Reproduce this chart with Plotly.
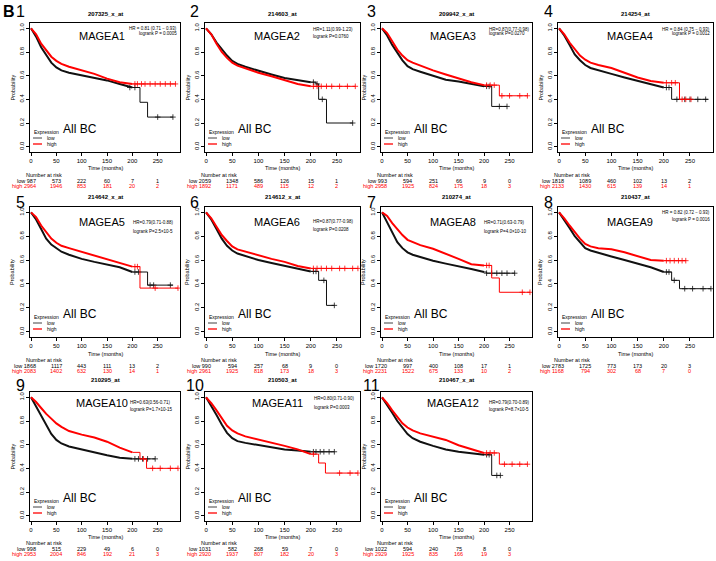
import plotly.graph_objects as go

W, H = 716, 561

# ---------------- data ----------------
GENES = ["MAGEA1", "MAGEA2", "MAGEA3", "MAGEA4", "MAGEA5", "MAGEA6",
         "MAGEA8", "MAGEA9", "MAGEA10", "MAGEA11", "MAGEA12"]
PROBES = ["207325_x_at", "214603_at", "209942_x_at", "214254_at", "214642_x_at",
          "214612_x_at", "210274_at", "210437_at", "210295_at", "210503_at", "210467_x_at"]
HR_TEXT = ["HR = 0.81 (0.71 \u2212 0.93)", "HR=1.11(0.99-1.23)", "HR=0.87(0.77-0.98)",
           "HR = 0.84 (0.75 \u2212 0.93)", "HR=0.79(0.71-0.88)", "HR=0.87(0.77-0.98)",
           "HR=0.71(0.63-0.79)", "HR = 0.82 (0.72 \u2212 0.93)", "HR=0.63(0.56-0.71)",
           "HR=0.80(0.71-0.90)", "HR=0.79(0.70-0.89)"]
P_TEXT = ["logrank P = 0.0005", "logrank P=0.0760", "logrank P=0.0270",
          "logrank P = 0.0012", "logrank P=2.5\u00d710-5", "logrank P=0.0208",
          "logrank P=4.0\u00d710-10", "logrank P = 0.0016", "logrank P=1.7\u00d710-15",
          "logrank P=0.0003", "logrank P=8.7\u00d710-5"]

RISK_TIMES = [0, 50, 100, 150, 200, 250]
RISK_LOW = [[987, 573, 222, 60, 7, 1], [2059, 1348, 586, 126, 15, 1],
            [993, 594, 251, 66, 9, 0], [1818, 1089, 460, 102, 13, 2],
            [1868, 1117, 443, 111, 13, 2], [990, 594, 257, 68, 9, 0],
            [1720, 997, 400, 108, 17, 1], [2783, 1725, 773, 173, 20, 3],
            [998, 515, 229, 49, 6, 0], [1031, 582, 268, 59, 7, 0],
            [1022, 594, 240, 75, 8, 0]]
RISK_HIGH = [[2964, 1946, 853, 181, 20, 2], [1892, 1171, 489, 115, 12, 2],
             [2958, 1925, 824, 175, 18, 3], [2133, 1430, 615, 139, 14, 1],
             [2083, 1402, 632, 130, 14, 1], [2961, 1925, 818, 173, 18, 3],
             [2231, 1522, 675, 133, 10, 2], [1168, 794, 302, 68, 7, 0],
             [2953, 2004, 846, 192, 21, 3], [2920, 1937, 807, 182, 20, 3],
             [2929, 1925, 835, 166, 19, 3]]

TIME_GRID = [0, 10, 20, 30, 40, 50, 60, 75, 100, 125, 150, 175, 200]
LOW_SURV = [
    [1, .93, .84, .77, .71, .67, .645, .625, .605, .585, .56, .53, .50],
    [1, .95, .88, .82, .77, .725, .70, .675, .64, .61, .58, .56, .545],
    [1, .94, .86, .79, .73, .68, .655, .633, .60, .565, .55, .53, .51],
    [1, .94, .86, .78, .73, .69, .665, .645, .615, .585, .555, .53, .50],
    [1, .94, .86, .78, .73, .70, .67, .645, .61, .585, .56, .54, .50],
    [1, .94, .86, .78, .72, .68, .655, .635, .60, .575, .55, .525, .505],
    [1, .92, .83, .75, .70, .665, .645, .625, .595, .57, .55, .525, .50],
    [1, .94, .87, .80, .745, .70, .68, .66, .63, .60, .57, .54, .50],
    [1, .92, .84, .76, .69, .64, .61, .585, .56, .53, .51, .49, .48],
    [1, .93, .85, .77, .70, .655, .63, .615, .595, .575, .56, .55, .54],
    [1, .94, .87, .80, .74, .69, .655, .625, .59, .56, .54, .525, .515],
]
HIGH_SURV = [
    [1, .95, .87, .81, .76, .725, .70, .675, .645, .615, .575, .545, .53],
    [1, .95, .87, .80, .75, .71, .685, .66, .625, .595, .565, .53, .51],
    [1, .96, .89, .82, .77, .73, .71, .685, .645, .61, .575, .545, .52],
    [1, .95, .88, .82, .77, .735, .71, .69, .665, .625, .585, .555, .54],
    [1, .96, .89, .83, .78, .745, .72, .70, .67, .64, .61, .575, .545],
    [1, .95, .88, .81, .76, .715, .69, .67, .64, .61, .585, .55, .53],
    [1, .97, .91, .86, .81, .77, .75, .725, .695, .655, .61, .565, .555],
    [1, .95, .89, .83, .78, .735, .715, .70, .69, .665, .63, .60, .595],
    [1, .96, .91, .86, .82, .78, .75, .715, .685, .66, .625, .575, .535],
    [1, .95, .89, .82, .76, .72, .695, .67, .645, .62, .59, .56, .52],
    [1, .95, .89, .83, .78, .745, .72, .695, .67, .64, .595, .56, .53],
]
LOW_TAIL_T = [[200, 215, 230, 280], [200, 210, 215, 230, 280], [200, 215, 245],
              [200, 215, 285], [200, 230, 280], [200, 215, 230, 245],
              [200, 205, 260], [200, 215, 230, 290], [200, 245], [200, 245],
              [200, 215, 232]]
LOW_TAIL_S = [[.50, .375, .25, .25], [.545, .53, .40, .20, .20], [.51, .34, .34],
              [.50, .40, .40], [.50, .39, .39], [.505, .43, .22, .22],
              [.50, .49, .49], [.50, .43, .36, .36], [.48, .48], [.54, .54],
              [.515, .34, .34]]
HIGH_TAIL_T = [[200, 285], [200, 285], [200, 230, 285], [200, 230, 252],
               [200, 215, 290], [200, 290], [200, 215, 230, 290], [200, 242],
               [200, 215, 228, 290], [200, 215, 228, 290], [200, 230, 285]]
HIGH_TAIL_S = [[.53, .53], [.51, .51], [.52, .43, .43], [.54, .40, .40],
               [.545, .365, .365], [.53, .53], [.555, .45, .33, .33], [.595, .595],
               [.535, .48, .40, .40], [.52, .445, .36, .36], [.53, .435, .435]]
LOW_CENS = [[195, 205, 250, 280], [205, 212, 222, 280], [205, 210, 230, 245],
            [205, 210, 225, 240, 250, 265, 280], [205, 212, 235, 242, 275],
            [205, 210, 225, 245], [205, 215, 225, 235, 245, 260],
            [205, 210, 220, 240, 255, 275, 290], [205, 212, 220, 230, 245],
            [205, 210, 218, 225, 235, 245], [205, 210, 225, 232]]
HIGH_CENS = [[205, 210, 218, 225, 235, 245, 255, 265, 275, 285],
             [205, 212, 220, 230, 240, 255, 270, 285],
             [205, 212, 220, 235, 250, 270, 285],
             [205, 215, 222, 235, 242, 252],
             [205, 210, 245, 290],
             [205, 212, 220, 230, 240, 255, 265, 280, 290],
             [205, 210, 275, 290],
             [205, 212, 220, 228, 235, 242],
             [222, 240, 255, 275, 290],
             [205, 255, 275, 290],
             [205, 212, 220, 240, 255, 270, 285]]

# ---------------- layout constants ----------------
COL_X = [(30, 180), (205, 360), (381, 532), (558, 713)]
ROW_Y = [(23, 152), (207, 337), (392, 521)]
NUM_DY = [-11, -5, -7]
PROBE_DY = [-9, -10, -12]
GENE_DY = [13, 15, 11]
HR_POS = [("r", 5, 10), ("l", 6, 13), ("l", 6, 11), ("r", 6, 11), ("l", 15, 24),
          ("l", 14, 22), ("l", 15, 24), ("r", 6, 12), ("l", 10, 17), ("l", 6, 15),
          ("l", 10, 17)]
HR_XOFF = [0, 107, 107, 0, 102, 107, 102, 0, 99, 108, 107]
BELOW = [(5, 16, 22.5, 28.5, 33.5), (6, 17, 23, 29, 34), (6, 16, 22, 28, 33)]

FONT = "Liberation Sans, Arial, sans-serif"
BLACK = "#111111"
RED = "#ff0000"


def px(x):
    return x / W


def py(y):
    return 1 - y / H


def step_val(ts, ss, t):
    v = ss[0]
    for tt, s in zip(ts, ss):
        if tt <= t:
            v = s
    return v


fig = go.Figure()
annotations = []
shapes = []


def ann(x, y, text, size, color="black", xanchor="center", xref="paper", bold=False,
        angle=0):
    annotations.append(dict(
        x=x if xref != "paper" else px(x), y=py(y), xref=xref, yref="paper",
        text=("<b>%s</b>" % text) if bold else text, showarrow=False,
        xanchor=xanchor, yanchor="middle", textangle=angle, borderpad=0,
        font=dict(family=FONT, size=size, color=color)))


layout_axes = {}
for i in range(11):
    r, c = divmod(i, 4)
    x0, x1 = COL_X[c]
    y0, y1 = ROW_Y[r]
    sfx = "" if i == 0 else str(i + 1)
    xa, ya = "x" + sfx, "y" + sfx
    layout_axes["xaxis" + sfx] = dict(
        domain=[px(x0), px(x1)], anchor=ya, range=[-2, 294],
        tickvals=[0, 50, 100, 150, 200, 250], ticks="outside", ticklen=3,
        tickwidth=0.8, tickcolor="black", showline=True, mirror=True,
        linecolor="black", linewidth=0.8, showgrid=False, zeroline=False,
        tickfont=dict(family=FONT, size=6, color="black"))
    layout_axes["yaxis" + sfx] = dict(
        domain=[py(y1), py(y0)], anchor=xa, range=[-0.045, 1.045],
        tickvals=[0, 0.2, 0.4, 0.6, 0.8, 1.0],
        ticktext=["0.0", "0.2", "0.4", "0.6", "0.8", "1.0"], tickangle=-90,
        ticks="outside", ticklen=3, tickwidth=0.8, tickcolor="black",
        showline=True, mirror=True, linecolor="black", linewidth=0.8,
        showgrid=False, zeroline=False,
        tickfont=dict(family=FONT, size=6, color="black"))

    # curves
    for surv, tt, ts, cens, col in (
            (LOW_SURV[i], LOW_TAIL_T[i], LOW_TAIL_S[i], LOW_CENS[i], BLACK),
            (HIGH_SURV[i], HIGH_TAIL_T[i], HIGH_TAIL_S[i], HIGH_CENS[i], RED)):
        fig.add_trace(go.Scatter(x=TIME_GRID, y=surv, mode="lines",
                                 line=dict(color=col, width=2.0), xaxis=xa, yaxis=ya,
                                 showlegend=False, hoverinfo="skip"))
        fig.add_trace(go.Scatter(x=tt, y=ts, mode="lines",
                                 line=dict(color=col, width=1.0, shape="hv"),
                                 xaxis=xa, yaxis=ya, showlegend=False,
                                 hoverinfo="skip"))
        fig.add_trace(go.Scatter(x=cens, y=[step_val(tt, ts, t) for t in cens],
                                 mode="markers",
                                 marker=dict(symbol="cross-thin", size=4,
                                             line=dict(color=col, width=0.8)),
                                 xaxis=xa, yaxis=ya, showlegend=False,
                                 hoverinfo="skip"))

    # texts
    ann(x0 - 10, y0 + NUM_DY[r], str(i + 1), 16)
    ann((x0 + x1) / 2, y0 + PROBE_DY[r], PROBES[i], 6, bold=True)
    ann(x0 + 72, y0 + GENE_DY[r], GENES[i], 11)
    ann(x0 + 50, y1 - 23, "All BC", 12)
    al, d1, d2 = HR_POS[i]
    if al == "r":
        ann(x1 - 2, y0 + d1, HR_TEXT[i], 4.5, xanchor="right")
        ann(x1 - 2, y0 + d2, P_TEXT[i], 4.5, xanchor="right")
    else:
        ann(x0 + HR_XOFF[i], y0 + d1, HR_TEXT[i], 4.5, xanchor="left")
        ann(x0 + HR_XOFF[i], y0 + d2, P_TEXT[i], 4.5, xanchor="left")
    ann(x0 - 18, (y0 + y1) / 2, "Probability", 5.5, angle=-90)

    # legend
    ann(x0 + 3, y1 - 20, "Expression", 5, xanchor="left")
    for k, (lab, col, lw) in enumerate((("low", BLACK, 0.8), ("high", RED, 1.3))):
        yy = y1 - 14 + 6 * k
        shapes.append(dict(type="line", xref="paper", yref="paper",
                           x0=px(x0 + 3), x1=px(x0 + 12), y0=py(yy), y1=py(yy),
                           line=dict(color=col, width=lw)))
        ann(x0 + 16, yy, lab, 5, xanchor="left")

    # below axis
    b = BELOW[r]
    ann((x0 + x1) / 2, y1 + b[1], "Time (months)", 5.5)
    ann(x0 + 14, y1 + b[2], "Number at risk", 5.5)
    ann(x0 + 7, y1 + b[3], "low %d" % RISK_LOW[i][0], 5.5, xanchor="right")
    ann(x0 + 7, y1 + b[4], "high %d" % RISK_HIGH[i][0], 5.5, color=RED,
        xanchor="right")
    for t, lo, hi in zip(RISK_TIMES[1:], RISK_LOW[i][1:], RISK_HIGH[i][1:]):
        ann(t, y1 + b[3], str(lo), 5.5, xref=xa)
        ann(t, y1 + b[4], str(hi), 5.5, color=RED, xref=xa)

ann(2, 12, "B", 16, xanchor="left", bold=True)

fig.update_layout(width=W, height=H, margin=dict(l=0, r=0, t=0, b=0),
                  paper_bgcolor="white", plot_bgcolor="white",
                  annotations=annotations, shapes=shapes,
                  font=dict(family=FONT), **layout_axes)
fig.write_html("out.html", config={"displayModeBar": False},
               post_script="document.body.style.margin='0';"
                           "document.body.style.overflow='hidden';")
